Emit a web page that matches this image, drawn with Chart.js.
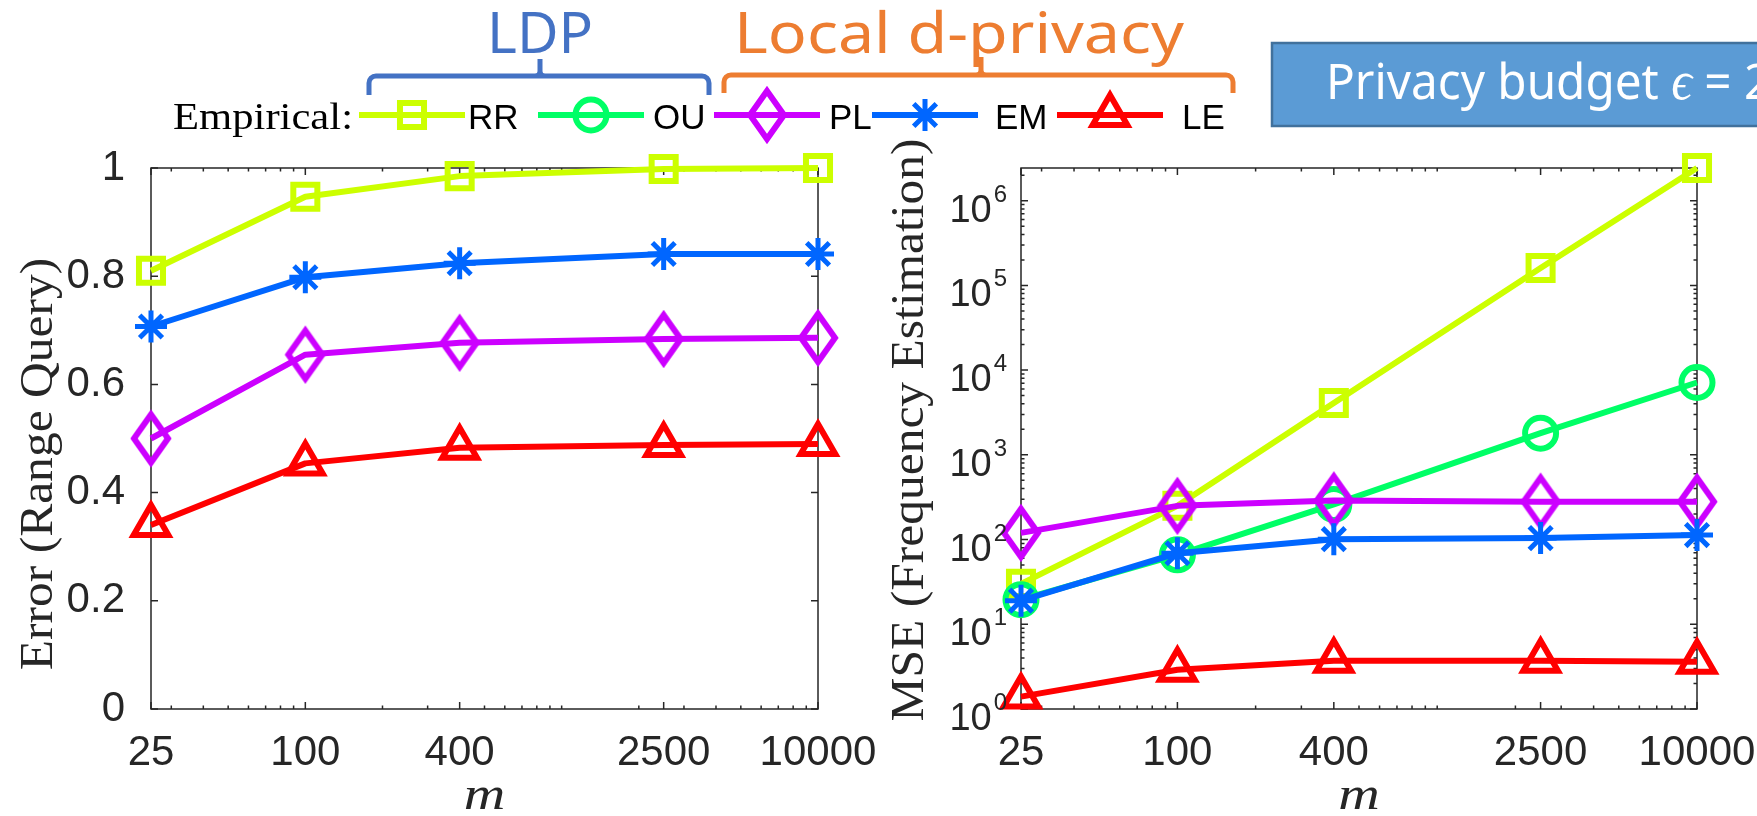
<!DOCTYPE html>
<html>
<head>
<meta charset="utf-8">
<title>Range query error and frequency estimation MSE versus m</title>
<script src="https://cdn.jsdelivr.net/npm/chart.js@4.4.1/dist/chart.umd.min.js"></script>
<style>
  html, body { margin: 0; padding: 0; background: #ffffff; }
  #wrap { position: relative; width: 1757px; height: 816px; overflow: hidden; }
  #wrap canvas { position: absolute; left: 0; top: 0; }
</style>
</head>
<body>
<div id="wrap">
  <canvas id="rangeChart" width="1757" height="816"></canvas>
  <canvas id="freqChart" width="1757" height="816"></canvas>
</div>
<script>
// ---------------- data ----------------
const mValues = [25, 100, 400, 2500, 10000];
const mTickLabels = ['25', '100', '400', '2500', '10000'];
const methodNames = ['RR', 'OU', 'PL', 'EM', 'LE'];

// Error of range queries (left panel)
const errorTicks = [0, 0.2, 0.4, 0.6, 0.8, 1];
const errorRR = [0.810, 0.947, 0.985, 0.998, 1.000];
const errorPL = [0.500, 0.655, 0.677, 0.684, 0.686];
const errorEM = [0.707, 0.798, 0.824, 0.841, 0.841];
const errorLE = [0.340, 0.454, 0.483, 0.488, 0.490];

// MSE of frequency estimation (right panel, log scale)
const mseExponents = [0, 1, 2, 3, 4, 5, 6];
const mseRR = [30, 250, 4100, 160000, 2430000];
const mseOU = [19.5, 66, 260, 1800, 7140];
const msePL = [120, 250, 290, 280, 280];
const mseEM = [19, 69, 101, 104, 113];
const mseLE = [1.4, 2.9, 3.7, 3.7, 3.6];

// ---------------- styling ----------------
const W = 1757, H = 816;
const AXIS_COLOR = '#262626';
const TICK_FONT = "'Liberation Sans', Arimo, Arial, Helvetica, sans-serif";
const SERIF_FONT = "'Liberation Serif', 'Times New Roman', serif";
const SANS_FONT = "'Noto Sans', 'Open Sans', sans-serif";
const TICK_SIZE = 42;

const LEFT_AREA = { left: 151, right: 818, top: 168, bottom: 709 };
const RIGHT_AREA = { left: 1021, right: 1697, top: 168, bottom: 709 };

function diamondMarker(color) {
  const c = document.createElement('canvas');
  c.width = 48; c.height = 64;
  const g = c.getContext('2d');
  g.strokeStyle = color; g.lineWidth = 6; g.lineJoin = 'miter';
  g.beginPath();
  g.moveTo(24, 8); g.lineTo(41, 32); g.lineTo(24, 56); g.lineTo(7, 32);
  g.closePath();
  g.stroke();
  return c;
}

const STYLE = {
  RR: { color: '#CCFF00', point: 'rect', radius: 17, width: 6, order: 5 },
  OU: { color: '#00FF66', point: 'circle', radius: 15.5, width: 6, order: 4 },
  PL: { color: '#CC00FF', point: diamondMarker('#CC00FF'), radius: 22, width: 6, order: 3 },
  EM: { color: '#0066FF', point: 'star', radius: 16, width: 5, order: 2 },
  LE: { color: '#FF0000', point: 'triangle', radius: 20, width: 6, order: 1 }
};

function makeSeries(name, values) {
  const st = STYLE[name];
  return {
    label: name,
    data: values.map((v, i) => ({ x: mValues[i], y: v })),
    borderColor: st.color,
    backgroundColor: st.color,
    borderWidth: 6,
    borderJoinStyle: 'round',
    borderCapStyle: 'butt',
    pointStyle: st.point,
    pointRadius: st.radius,
    pointHoverRadius: st.radius,
    pointBorderWidth: st.width,
    pointHoverBorderWidth: st.width,
    pointBorderColor: st.color,
    pointBackgroundColor: 'rgba(0,0,0,0)',
    tension: 0,
    clip: false,
    order: st.order
  };
}

// draw text squeezed/stretched horizontally to a given width
function fittedText(ctx, text, x, y, font, width, align) {
  ctx.save();
  ctx.font = font;
  const s = width / ctx.measureText(text).width;
  ctx.translate(x, y);
  ctx.scale(s, 1);
  ctx.textAlign = align || 'left';
  ctx.fillText(text, 0, 0);
  ctx.restore();
  return s;
}

function xScale(area) {
  return {
    type: 'logarithmic',
    min: mValues[0],
    max: mValues[mValues.length - 1],
    afterBuildTicks: s => { s.ticks = mValues.map(v => ({ value: v })); },
    afterFit: s => { s.height = H - area.bottom; s.paddingLeft = 0; s.paddingRight = 0; },
    grid: { display: false },
    border: { display: false },
    ticks: {
      autoSkip: false, maxRotation: 0, minRotation: 0, padding: 11,
      color: AXIS_COLOR, font: { family: TICK_FONT, size: TICK_SIZE },
      callback: (v, i) => mTickLabels[i]
    }
  };
}

// minor tick positions of a log axis (2..9 times each decade)
function logMinor(lo, hi, skip) {
  const out = [];
  for (let d = Math.pow(10, Math.floor(Math.log10(lo))); d < hi; d *= 10) {
    for (let k = 1; k <= 9; k++) {
      const v = k * d;
      if (v > lo && v < hi && !(skip || []).includes(v) && !(k === 1 && (skip || []).length === 0)) out.push(v);
    }
  }
  return out;
}

// axes box with inward ticks on all four sides
const axesFrame = {
  id: 'axesFrame',
  beforeDatasetsDraw(chart, args, opts) {
    const { ctx, chartArea: a, scales } = chart;
    ctx.save();
    ctx.strokeStyle = AXIS_COLOR;
    ctx.lineWidth = 1.5;
    ctx.beginPath();
    const xt = (v, len) => {
      const p = scales.x.getPixelForValue(v);
      ctx.moveTo(p, a.bottom); ctx.lineTo(p, a.bottom - len);
      ctx.moveTo(p, a.top); ctx.lineTo(p, a.top + len);
    };
    const yt = (v, len) => {
      const p = scales.y.getPixelForValue(v);
      ctx.moveTo(a.left, p); ctx.lineTo(a.left + len, p);
      ctx.moveTo(a.right, p); ctx.lineTo(a.right - len, p);
    };
    mValues.forEach(v => xt(v, 7));
    opts.xMinor.forEach(v => xt(v, 3.5));
    opts.yMajor.forEach(v => yt(v, 7));
    (opts.yMinor || []).forEach(v => yt(v, 3.5));
    ctx.stroke();
    ctx.strokeRect(a.left, a.top, a.right - a.left, a.bottom - a.top);
    ctx.restore();
  }
};

// serif axis titles
const YLABEL_FONT = '47px ' + SERIF_FONT;
function serifScale(ctx) {
  ctx.save();
  ctx.font = YLABEL_FONT;
  const s = 583 / ctx.measureText('MSE (Frequency Estimation)').width;
  ctx.restore();
  return s;
}
const axisTitles = {
  id: 'axisTitles',
  afterDraw(chart, args, opts) {
    const { ctx, chartArea: a } = chart;
    ctx.save();
    ctx.fillStyle = AXIS_COLOR;
    ctx.textBaseline = 'alphabetic';
    // x title
    ctx.save();
    ctx.translate((a.left + a.right) / 2, 809);
    ctx.scale(1.25, 1);
    ctx.font = 'italic 46px ' + SERIF_FONT;
    ctx.textAlign = 'center';
    ctx.fillText(opts.xTitle, 0, 0);
    ctx.restore();
    // y title (rotated)
    const s = serifScale(ctx);
    ctx.translate(opts.yTitleX, opts.yTitleY);
    ctx.rotate(-Math.PI / 2);
    ctx.scale(s, 1);
    ctx.font = YLABEL_FONT;
    ctx.textAlign = 'center';
    ctx.fillText(opts.yTitle, 0, 0);
    ctx.restore();
  }
};

// 10^k labels of the log axis
const powerTicks = {
  id: 'powerTicks',
  afterDraw(chart) {
    const { ctx, chartArea: a, scales } = chart;
    ctx.save();
    ctx.fillStyle = AXIS_COLOR;
    ctx.textAlign = 'right';
    ctx.textBaseline = 'alphabetic';
    mseExponents.forEach(k => {
      const p = scales.y.getPixelForValue(Math.pow(10, k));
      const right = a.left - 14;
      ctx.font = '24px ' + TICK_FONT;
      const ew = ctx.measureText(String(k)).width;
      ctx.fillText(String(k), right, p + 1);
      ctx.font = '38px ' + TICK_FONT;
      ctx.fillText('10', right - ew - 2, p + 21);
    });
    ctx.restore();
  }
};

// brackets, group labels, budget box and the shared legend
function bracket(ctx, x0, x1, yBar, yEnd, xTip, yTip, color) {
  ctx.save();
  ctx.strokeStyle = color;
  ctx.lineWidth = 5;
  ctx.lineJoin = 'round';
  ctx.beginPath();
  ctx.moveTo(x0, yEnd);
  ctx.arcTo(x0, yBar, x1, yBar, 7);
  ctx.arcTo(x1, yBar, x1, yEnd, 7);
  ctx.lineTo(x1, yEnd);
  ctx.moveTo(xTip - 6, yBar);
  ctx.arcTo(xTip, yBar, xTip, yTip, 5);
  ctx.lineTo(xTip, yTip);
  ctx.moveTo(xTip + 6, yBar);
  ctx.arcTo(xTip, yBar, xTip, yTip, 5);
  ctx.stroke();
  ctx.restore();
}

const LEGEND_LINE_X = [359, 538, 714, 872, 1057];
const LEGEND_TEXT_X = [468, 653, 829, 995, 1182];

// budget caption: sans text with an italic epsilon, spaced as one run
function budgetCaption(ctx, x, y, width) {
  const parts = [
    ['Privacy budget ', '50px ' + SANS_FONT],
    ['\u03F5', 'italic 54px ' + SERIF_FONT],
    [' = ', '50px ' + SANS_FONT],
    ['2', '50px ' + SANS_FONT]
  ];
  let total = 0;
  parts.slice(0, 3).forEach(([t, f]) => { ctx.font = f; total += ctx.measureText(t).width; });
  const s = width / total;
  ctx.save();
  ctx.translate(x, y);
  ctx.scale(s, 1);
  ctx.textAlign = 'left';
  let cx = 0;
  parts.forEach(([t, f]) => {
    ctx.font = f;
    ctx.fillText(t, cx, 0);
    cx += ctx.measureText(t).width;
  });
  ctx.restore();
}

const header = {
  id: 'header',
  afterDraw(chart) {
    const ctx = chart.ctx;
    ctx.save();
    ctx.textBaseline = 'alphabetic';

    // group labels
    bracket(ctx, 369, 709, 76, 95, 540, 59, '#4472C4');
    bracket(ctx, 724, 1233, 75, 93, 981, 57, '#ED7D31');
    ctx.fillStyle = '#4472C4';
    fittedText(ctx, 'LDP', 540, 53, '56px ' + SANS_FONT, 106, 'center');
    ctx.fillStyle = '#ED7D31';
    fittedText(ctx, 'Local d-privacy', 959, 53, '56px ' + SANS_FONT, 450, 'center');

    // privacy budget box
    ctx.fillStyle = '#5B9BD5';
    ctx.strokeStyle = '#41719C';
    ctx.lineWidth = 2.5;
    ctx.fillRect(1272, 43, W - 1272 + 10, 83);
    ctx.strokeRect(1272, 43, W - 1272 + 10, 83);
    ctx.fillStyle = '#FFFFFF';
    budgetCaption(ctx, 1326, 99, 418);

    // legend
    const ly = 115;
    ctx.fillStyle = '#000000';
    fittedText(ctx, 'Empirical:', 353, 129, '38px ' + SERIF_FONT, 180, 'right');
    chart.data.datasets
      .slice()
      .sort((p, q) => methodNames.indexOf(p.label) - methodNames.indexOf(q.label))
      .forEach((ds, i) => {
        const x = LEGEND_LINE_X[i];
        ctx.strokeStyle = ds.borderColor;
        ctx.lineWidth = 6;
        ctx.lineCap = 'butt';
        ctx.beginPath();
        ctx.moveTo(x, ly);
        ctx.lineTo(x + 106, ly);
        ctx.stroke();
        ctx.fillStyle = 'rgba(0,0,0,0)';
        ctx.lineWidth = ds.pointBorderWidth;
        Chart.helpers.drawPoint(ctx, {
          pointStyle: ds.pointStyle, rotation: 0,
          radius: ds.pointRadius, borderWidth: ds.pointBorderWidth
        }, x + 53, ly);
        ctx.fillStyle = '#000000';
        ctx.font = '35px ' + TICK_FONT;
        ctx.textAlign = 'left';
        ctx.fillText(ds.label, LEGEND_TEXT_X[i], 129);
      });
    ctx.restore();
  }
};

const common = {
  responsive: false,
  maintainAspectRatio: false,
  animation: false,
  devicePixelRatio: 1,
  events: []
};

// ---------------- left panel: range query error ----------------
new Chart(document.getElementById('rangeChart'), {
  type: 'line',
  data: {
    datasets: [
      makeSeries('RR', errorRR),
      makeSeries('PL', errorPL),
      makeSeries('EM', errorEM),
      makeSeries('LE', errorLE)
    ]
  },
  options: Object.assign({}, common, {
    layout: { padding: { left: 0, top: LEFT_AREA.top, right: W - LEFT_AREA.right, bottom: 0 } },
    scales: {
      x: xScale(LEFT_AREA),
      y: {
        type: 'linear', min: errorTicks[0], max: errorTicks[errorTicks.length - 1],
        afterBuildTicks: s => { s.ticks = errorTicks.map(v => ({ value: v })); },
        afterFit: s => { s.width = LEFT_AREA.left; },
        grid: { display: false },
        border: { display: false },
        ticks: { padding: 18, color: AXIS_COLOR, font: { family: TICK_FONT, size: TICK_SIZE }, callback: v => String(v) }
      }
    },
    plugins: {
      legend: { display: false },
      tooltip: { enabled: false },
      axesFrame: { xMinor: logMinor(mValues[0], mValues[mValues.length - 1], mValues), yMajor: errorTicks },
      axisTitles: { xTitle: 'm', yTitle: 'Error (Range Query)', yTitleX: 52, yTitleY: 464 }
    }
  }),
  plugins: [axesFrame, axisTitles]
});

// ---------------- right panel: frequency estimation MSE ----------------
const mseMax = Math.max(...mseRR, ...mseOU, ...msePL, ...mseEM, ...mseLE);
new Chart(document.getElementById('freqChart'), {
  type: 'line',
  data: {
    datasets: [
      makeSeries('RR', mseRR),
      makeSeries('OU', mseOU),
      makeSeries('PL', msePL),
      makeSeries('EM', mseEM),
      makeSeries('LE', mseLE)
    ]
  },
  options: Object.assign({}, common, {
    layout: { padding: { left: 900, top: RIGHT_AREA.top, right: W - RIGHT_AREA.right, bottom: 0 } },
    scales: {
      x: xScale(RIGHT_AREA),
      y: {
        type: 'logarithmic', min: 1, max: mseMax,
        afterFit: s => { s.width = RIGHT_AREA.left - 900; s.paddingTop = 0; s.paddingBottom = 0; },
        grid: { display: false },
        border: { display: false },
        ticks: { display: false }
      }
    },
    plugins: {
      legend: { display: false },
      tooltip: { enabled: false },
      axesFrame: {
        xMinor: logMinor(mValues[0], mValues[mValues.length - 1], mValues),
        yMajor: mseExponents.map(k => Math.pow(10, k)),
        yMinor: logMinor(1, mseMax, [])
      },
      axisTitles: { xTitle: 'm', yTitle: 'MSE (Frequency Estimation)', yTitleX: 923, yTitleY: 430 }
    }
  }),
  plugins: [axesFrame, axisTitles, powerTicks, header]
});
</script>
</body>
</html>
